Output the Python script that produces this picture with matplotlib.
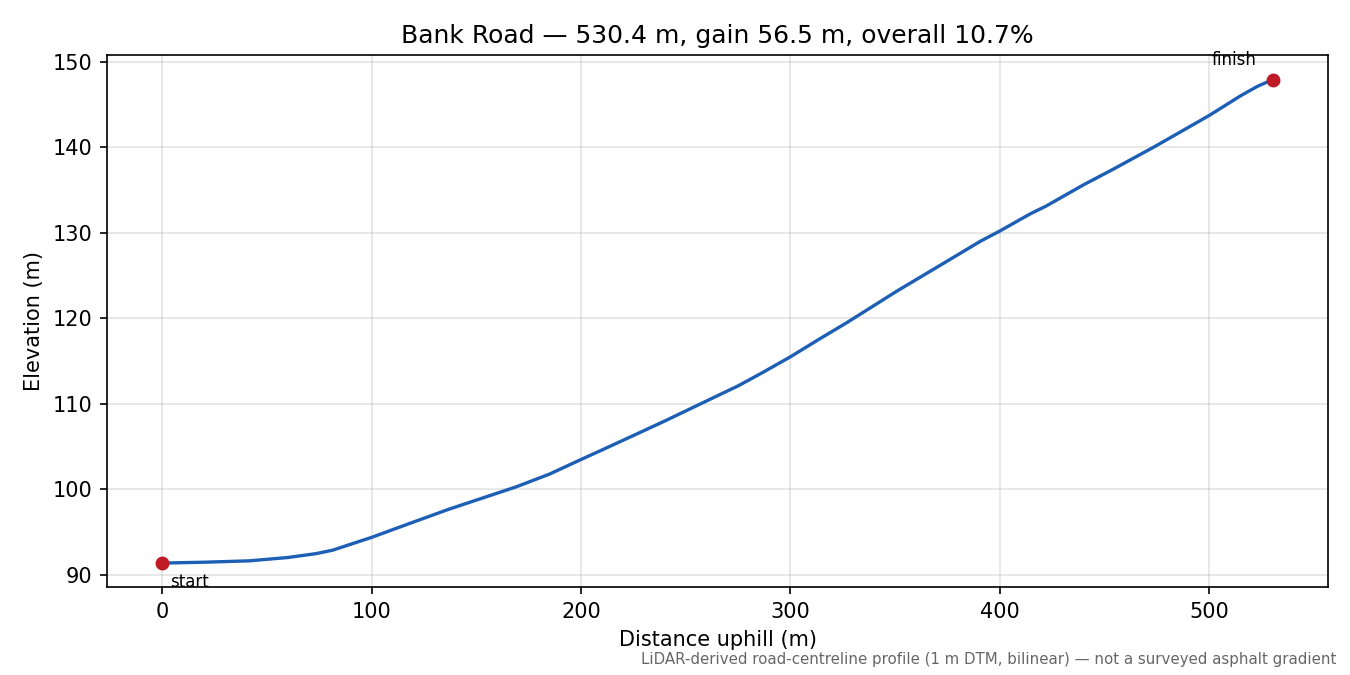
import matplotlib
matplotlib.use('Agg')
import matplotlib.pyplot as plt
import numpy as np

# profile (distance uphill m, elevation m)
distance = [0, 20, 41.5, 60, 73.4, 81.3, 90, 100, 110, 121.2, 137, 153, 169, 185, 200,
            209, 225, 240, 263, 275, 287, 300, 314, 327, 351, 375, 390.7, 400, 414.5, 422,
            440, 454, 473.5, 490, 500, 515, 523, 530.4]
elevation = [91.4, 91.5, 91.66, 92.05, 92.5, 92.9, 93.6, 94.4, 95.3, 96.3, 97.7, 99.0,
             100.3, 101.8, 103.5, 104.5, 106.3, 108.0, 110.7, 112.1, 113.7, 115.5, 117.6,
             119.5, 123.2, 126.7, 129.0, 130.2, 132.2, 133.1, 135.6, 137.4, 140.0, 142.3,
             143.7, 146.0, 147.1, 147.9]

road = 'Bank Road'
length_m = 530.4
gain_m = 56.5
grade_pct = 10.7
note = 'LiDAR-derived road-centreline profile (1 m DTM, bilinear) \u2014 not a surveyed asphalt gradient'

fig, ax = plt.subplots(figsize=(9, 4.5), dpi=150)
fig.subplots_adjust(left=0.079, right=0.984, top=0.918, bottom=0.13)

ax.plot(distance, elevation, color='#1c5fb5', lw=1.6)
ax.scatter([distance[0], distance[-1]], [elevation[0], elevation[-1]], color='#c01a26', s=32, zorder=3)
ax.annotate('start', (distance[0], elevation[0]), xytext=(4, -5), textcoords='offset points',
            ha='left', va='top', fontsize=8)
ax.annotate('finish', (distance[-1], elevation[-1]), xytext=(-8, 5), textcoords='offset points',
            ha='right', va='bottom', fontsize=8)

ax.set_title(f'{road} \u2014 {length_m} m, gain {gain_m} m, overall {grade_pct}%', fontsize=12)
ax.set_xlabel('Distance uphill (m)')
ax.set_ylabel('Elevation (m)')
ax.grid(True, color='#b0b0b0', alpha=0.35, lw=0.8)

fig.text(0.99, 0.012, note, ha='right', va='bottom', fontsize=7.2, color='#666666')

fig.savefig('out.png')
